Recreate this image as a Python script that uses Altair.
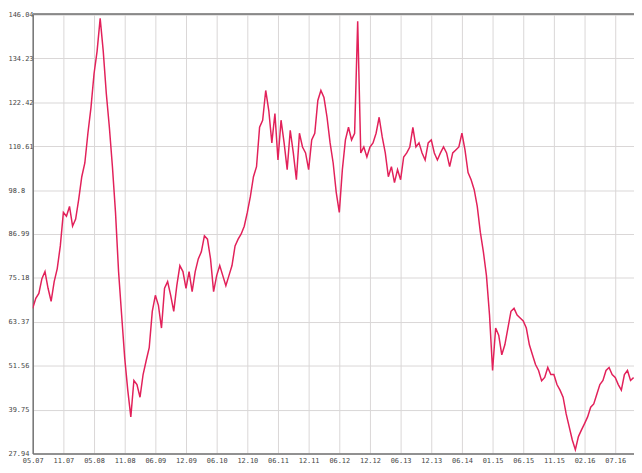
import altair as alt
import pandas as pd

# x tick labels (one every 10 data steps)
x_labels = ["05.07", "11.07", "05.08", "11.08", "06.09", "12.09", "06.10", "12.10",
            "06.11", "12.11", "06.12", "12.12", "06.13", "12.13", "06.14", "01.15",
            "06.15", "11.15", "02.16", "07.16"]
x_tick_pos = [i * 10 for i in range(len(x_labels))]

# y tick values
y_ticks = [27.94, 39.75, 51.56, 63.37, 75.18, 86.99, 98.8, 110.61, 122.42, 134.23, 146.04]

# price series
price = [
    67.0, 69.7, 71.0, 75.0, 76.9, 72.4, 68.9, 74.2, 77.7, 83.8,
    92.8, 91.8, 94.4, 89.1, 91.0, 96.3, 102.4, 106.1, 114.1, 121.0,
    130.1, 136.2, 145.0, 136.2, 124.8, 115.7, 105.1, 92.8, 76.9, 65.2,
    53.7, 45.0, 37.8, 47.6, 46.5, 43.1, 49.2, 52.9, 56.4, 66.2,
    70.5, 67.8, 61.7, 72.4, 74.2, 70.5, 66.2, 73.1, 78.5, 76.9,
    72.4, 76.9, 71.5, 76.9, 80.3, 82.2, 86.5, 85.6, 80.3, 71.5,
    75.8, 78.5, 75.8, 73.1, 75.8, 78.5, 83.8, 85.6, 87.0, 89.1,
    92.8, 97.1, 102.4, 105.1, 115.7, 117.6, 125.6, 120.2, 111.5, 119.4,
    106.9, 117.6, 111.5, 104.3, 114.9, 108.8, 101.6, 114.1, 110.4, 108.8,
    104.3, 112.3, 114.1, 122.9, 125.6, 123.7, 118.4, 111.5, 106.1, 98.2,
    92.8, 104.3, 112.3, 115.7, 112.3, 114.1, 144.2, 108.8, 110.4, 107.7,
    110.4, 111.5, 114.1, 118.4, 113.1, 108.8, 102.4, 105.1, 100.8, 104.3,
    101.6, 107.7, 108.8, 110.4, 115.7, 110.4, 111.5, 108.8, 106.9, 111.5,
    112.3, 108.8, 106.9, 108.8, 110.4, 108.8, 105.1, 108.8, 109.6, 110.4,
    114.1, 109.6, 103.5, 101.6, 98.9, 94.4, 87.5, 82.2, 75.8, 65.2,
    50.3, 61.7, 59.8, 54.5, 57.2, 61.7, 66.2, 67.0, 65.2, 64.4,
    63.6, 61.7, 57.2, 54.5, 51.9, 50.3, 47.5, 48.4, 51.1, 49.2,
    49.2, 46.5, 45.0, 43.1, 38.6, 35.1, 31.6, 29.0, 32.5, 34.3,
    36.0, 37.8, 40.4, 41.3, 43.9, 46.5, 47.6, 50.3, 51.1, 49.2,
    48.4, 46.5, 45.0, 49.2, 50.3, 47.6, 48.4,
]
idx = list(range(len(price)))

df = pd.DataFrame({"i": idx, "price": price})

W, H = 608, 444
x_max = W / 3.1
font = "DejaVu Sans Mono"

label_arr = "[" + ",".join("'%s'" % s for s in x_labels) + "]"

line = alt.Chart(df).mark_line(color="#e2215a", strokeWidth=1.5, clip=True).encode(
    x=alt.X("i:Q", scale=alt.Scale(domain=[0, x_max], nice=False, zero=False),
            axis=alt.Axis(values=x_tick_pos, labelExpr=label_arr + "[round(datum.value/10)]",
                          title=None, grid=True, gridColor="#dad7d7", gridWidth=1,
                          ticks=False, domainColor="#767676", domainWidth=1.5,
                          labelFont=font, labelFontSize=7, labelColor="#444",
                          labelPadding=3, labelOverlap=False, labelFlush=False)),
    y=alt.Y("price:Q", scale=alt.Scale(domain=[27.94, 146.04], nice=False, zero=False),
            axis=alt.Axis(values=y_ticks, format=".2~f", title=None, grid=True,
                          gridColor="#dad7d7", gridWidth=1, ticks=False,
                          domainColor="#767676", domainWidth=1.5,
                          labelFont=font, labelFontSize=7, labelColor="#444",
                          labelAlign="left", labelPadding=25, labelOverlap=False,
                          labelFlush=False)),
)

top_border = alt.Chart(df).mark_rule(color="#8a8a8a", strokeWidth=1).encode(
    y=alt.value(0), x=alt.value(0), x2=alt.value(W)
)

chart = alt.layer(line, top_border).properties(
    width=W, height=H,
    autosize=alt.AutoSizeParams(type="none"),
    padding={"left": 25, "top": 4, "right": 0, "bottom": 8},
).configure_view(stroke=None).configure(background="white")

chart.save("out.html", embed_options={"renderer": "svg", "actions": False})
